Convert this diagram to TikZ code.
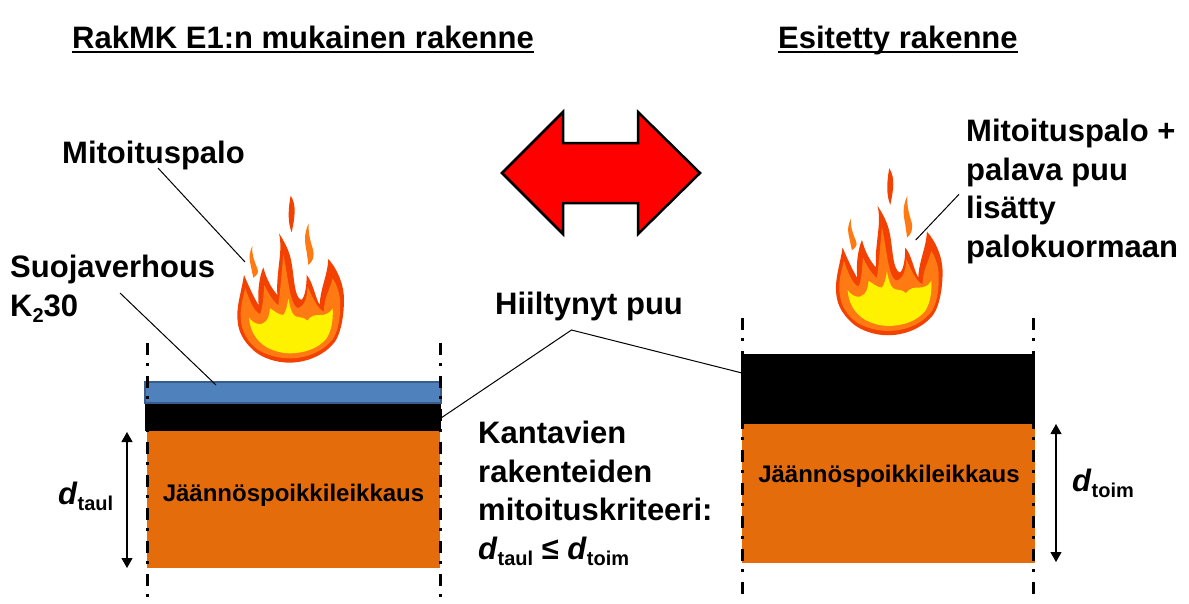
\documentclass[tikz,border=0pt]{standalone}
\usepackage{fontspec}
\setmainfont{Liberation Sans}
\usetikzlibrary{arrows.meta}
\definecolor{palopuna}{HTML}{F24100}
\definecolor{paloora}{HTML}{FF7A12}
\definecolor{suoja}{HTML}{4F81BD}
\definecolor{suojareuna}{HTML}{385D8A}
\definecolor{puu}{HTML}{E46C0A}
\newsavebox{\alle}
\newcommand{\alleviiva}[1]{\sbox{\alle}{#1}\rlap{\rule[-5pt]{\wd\alle}{2.5pt}}\usebox{\alle}}
\newcommand{\alaindeksi}[1]{\raisebox{-6pt}{\fontsize{20}{20}\selectfont #1}}
\newcommand{\dsym}[1]{\textit{d}\alaindeksi{#1}}
\tikzset{
	otsikko/.style={font=\bfseries\fontsize{31}{31}\selectfont, inner sep=0pt, anchor=base west},
	teksti/.style={font=\bfseries\fontsize{31}{38.5}\selectfont, inner sep=0pt, align=left, anchor=north west},
	leikkaus/.style={font=\bfseries\fontsize{24}{24}\selectfont, inner sep=0pt},
	viite/.style={draw=black, line width=1pt},
	mitta/.style={draw=black, line width=1.2pt, {Triangle[length=10pt,width=11pt]}-{Triangle[length=10pt,width=11pt]}},
	reuna/.style={draw=black, line width=3pt, dash pattern=on 12pt off 8pt on 3pt off 10pt},
}
% flame, given in the coordinates of a 3x crop
\newcommand{\liekki}[2]{
	\begin{scope}[shift={(#1,#2)}, x=0.3333pt, y=-0.3333pt]
		\fill[palopuna] (132,285) .. controls (125,330) and (112,370) .. (112,405)
			.. controls (112,450) and (125,480) .. (165,515)
			.. controls (190,535) and (230,548) .. (268,548)
			.. controls (320,548) and (375,525) .. (405,485)
			.. controls (425,455) and (432,400) .. (432,360)
			.. controls (432,310) and (410,265) .. (385,237)
			.. controls (382,290) and (362,320) .. (359,375)
			.. controls (345,350) and (338,305) .. (320,285)
			.. controls (320,315) and (316,350) .. (304,360)
			.. controls (282,352) and (283,290) .. (274,245)
			.. controls (268,210) and (250,180) .. (237,160)
			.. controls (250,215) and (228,270) .. (232,345)
			.. controls (215,325) and (200,300) .. (190,262)
			.. controls (178,290) and (172,335) .. (176,376)
			.. controls (160,350) and (145,315) .. (132,285) -- cycle;
		\fill[paloora] (136,325) .. controls (130,350) and (122,375) .. (122,405)
			.. controls (122,450) and (140,485) .. (175,510)
			.. controls (200,525) and (235,535) .. (268,535)
			.. controls (320,535) and (370,515) .. (400,475)
			.. controls (418,445) and (422,400) .. (420,360)
			.. controls (418,335) and (408,310) .. (398,295)
			.. controls (390,330) and (372,350) .. (372,395)
			.. controls (350,385) and (335,345) .. (323,320)
			.. controls (322,350) and (315,380) .. (292,384)
			.. controls (268,370) and (265,290) .. (250,224)
			.. controls (245,280) and (240,340) .. (235,376)
			.. controls (220,365) and (205,340) .. (193,315)
			.. controls (190,345) and (190,380) .. (180,402)
			.. controls (160,395) and (145,350) .. (136,325) -- cycle;
		\fill[yellow] (147,412) .. controls (150,450) and (165,480) .. (200,502)
			.. controls (225,515) and (250,520) .. (268,520)
			.. controls (315,520) and (355,505) .. (380,475)
			.. controls (395,450) and (400,420) .. (398,385)
			.. controls (390,400) and (375,405) .. (362,405)
			.. controls (345,405) and (335,405) .. (322,422)
			.. controls (310,405) and (290,420) .. (278,400)
			.. controls (270,385) and (268,370) .. (265,355)
			.. controls (262,375) and (258,395) .. (250,405)
			.. controls (235,405) and (220,390) .. (210,385)
			.. controls (208,405) and (205,425) .. (185,432)
			.. controls (170,435) and (155,425) .. (147,412) -- cycle;
		\fill[paloora] (157,198) .. controls (145,225) and (148,240) .. (152,255)
			.. controls (155,270) and (158,285) .. (160,293)
			.. controls (170,285) and (178,280) .. (172,265)
			.. controls (162,240) and (155,225) .. (157,198) -- cycle;
		\fill[palopuna] (272,47) .. controls (290,75) and (285,110) .. (275,157)
			.. controls (262,125) and (265,85) .. (272,47) -- cycle;
		\fill[paloora] (326,130) .. controls (310,165) and (315,190) .. (320,215)
			.. controls (322,235) and (325,245) .. (325,255)
			.. controls (338,245) and (345,230) .. (338,205)
			.. controls (330,180) and (325,160) .. (326,130) -- cycle;
	\end{scope}
}
\begin{document}
\begin{tikzpicture}[x=1pt, y=-1pt]
	\useasboundingbox (0,0) rectangle (1189,603);
	% otsikot
	\node[otsikko] (vasenotsikko) at (72,48) {\alleviiva{RakMK E1:n mukainen rakenne}};
	\node[otsikko] (oikeaotsikko) at (778,48) {\alleviiva{Esitetty rakenne}};
	% nuoli
	\draw[line width=2.5pt, line join=miter, fill=red] (502,173) -- (563,112) -- (563,143) -- (638,143)
		-- (638,112) -- (700,173) -- (638,234) -- (638,203) -- (563,203) -- (563,234) -- cycle;
	% palot
	\liekki{200}{180}
	\liekki{798.6}{152.6}
	% vasen rakenne
	\filldraw[draw=suojareuna, fill=suoja, line width=2.5pt] (145,382) rectangle (441,403);
	\fill[black] (145,404) rectangle (441,431);
	\node[fill=puu, minimum width=293pt, minimum height=137pt, inner sep=0pt, anchor=north west] (vasenpuu) at (147,431) {};
	\draw[reuna] (147,343) -- (147,600);
	\draw[reuna] (440,343) -- (440,600);
	\node[leikkaus] (vasenteksti) at (293.5,495) {Jäännöspoikkileikkaus};
	% oikea rakenne
	\fill[black] (741,354) rectangle (1035,424);
	\node[fill=puu, minimum width=293pt, minimum height=138.5pt, inner sep=0pt, anchor=north west] (oikeapuu) at (742,424) {};
	\draw[reuna] (742,318) -- (742,595);
	\draw[reuna] (1033,318) -- (1033,595);
	\node[leikkaus] (oikeateksti) at (889,476) {Jäännöspoikkileikkaus};
	% tekstit
	\node[teksti] (mpalo) at (62,141) {Mitoituspalo};
	\node[teksti] (suoja) at (10,255) {Suojaverhous\\K\alaindeksi{2}30};
	\node[teksti] (hiil) at (495,292) {Hiiltynyt puu};
	\node[teksti] (krit) at (478,421) {Kantavien\\rakenteiden\\mitoituskriteeri:\\\dsym{taul} ≤ \dsym{toim}};
	\node[teksti] (mpalo2) at (966,119) {Mitoituspalo +\\palava puu\\lisätty\\palokuormaan};
	\node[teksti, anchor=base west] (dtaul) at (58,504) {\dsym{taul}};
	\node[teksti, anchor=base west] (dtoim) at (1072,491) {\dsym{toim}};
	% viivat
	\coordinate (v1) at (158,168);
	\coordinate (v2) at (245,262);
	\coordinate (v3) at (120,293);
	\coordinate (v4) at (216,385);
	\coordinate (v5) at (441,418);
	\coordinate (v6) at (571.5,330);
	\coordinate (v7) at (742,373);
	\coordinate (v8) at (915.7,240);
	\coordinate (v9) at (959,194.3);
	\draw[viite] (v1) -- (v2);
	\draw[viite] (v3) -- (v4);
	\draw[viite] (v5) -- (v6) -- (v7);
	\draw[viite] (v8) -- (v9);
	% mitat
	\coordinate (m1) at (127,432);
	\coordinate (m2) at (127,568);
	\coordinate (m3) at (1056,424);
	\coordinate (m4) at (1056,562);
	\draw[mitta] (m1) -- (m2);
	\draw[mitta] (m3) -- (m4);
\end{tikzpicture}
\end{document}
